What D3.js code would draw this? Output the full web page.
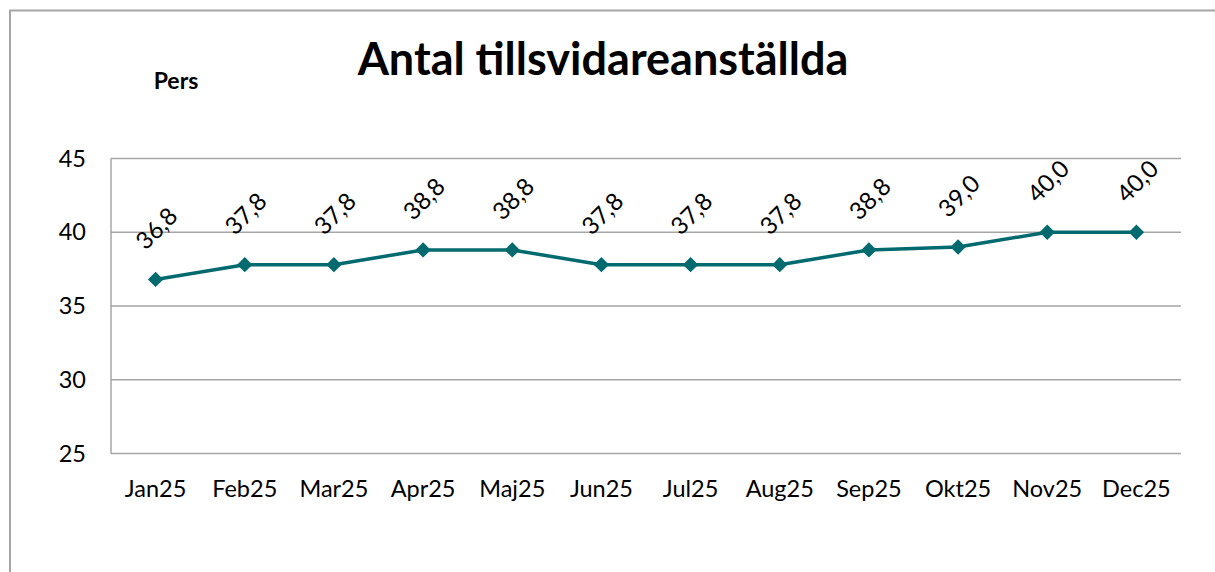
<!DOCTYPE html>
<html><head><meta charset="utf-8">
<script src="https://cdn.jsdelivr.net/npm/d3@7"></script>
<style>
html,body{margin:0;padding:0;background:#fff;}
svg{display:block;font-family:Lato,"Open Sans",sans-serif;}
</style></head>
<body>
<svg id="chart" width="1215" height="572"></svg>
<script>
const months = ["Jan25","Feb25","Mar25","Apr25","Maj25","Jun25","Jul25","Aug25","Sep25","Okt25","Nov25","Dec25"];
const values = [36.8,37.8,37.8,38.8,38.8,37.8,37.8,37.8,38.8,39.0,40.0,40.0];
const yTicks = [25,30,35,40,45];
const titleText = "Antal tillsvidareanställda";
const unitText = "Pers";

const svg = d3.select("#chart");
const pLeft = 111, pRight = 1181, pTop = 158.5, pBottom = 453.5;

svg.append("rect").attr("x",10).attr("y",10.5).attr("width",1300).attr("height",700)
  .attr("fill","none").attr("stroke","#a6a6a6").attr("stroke-width",2);

const x = d3.scalePoint().domain(months).range([pLeft,pRight]).padding(0.5);
const y = d3.scaleLinear().domain([25,45]).range([pBottom,pTop]);

// gridlines
svg.append("g").selectAll("line").data(yTicks).join("line")
  .attr("x1",pLeft).attr("x2",pRight).attr("y1",d=>y(d)).attr("y2",d=>y(d))
  .attr("stroke","#a6a6a6").attr("stroke-width",1.5);
// y axis line
svg.append("line").attr("x1",pLeft).attr("x2",pLeft).attr("y1",pTop).attr("y2",pBottom)
  .attr("stroke","#a6a6a6").attr("stroke-width",1.5);

// y tick labels
svg.append("g").selectAll("text").data(yTicks).join("text")
  .attr("x",86).attr("y",d=>y(d)).attr("dy","0.35em").attr("text-anchor","end")
  .attr("font-size",23.5).attr("fill","#000").text(d=>d);

// x labels
svg.append("g").selectAll("text").data(months).join("text")
  .attr("x",d=>x(d)).attr("y",497).attr("text-anchor","middle")
  .attr("font-size",23.5).attr("fill","#000").text(d=>d);

// line
const line = d3.line().x((d,i)=>x(months[i])).y(d=>y(d));
svg.append("path").datum(values).attr("d",line).attr("fill","none")
  .attr("stroke","#006a6e").attr("stroke-width",3.5).attr("stroke-linejoin","round");

// markers
svg.append("g").selectAll("path").data(values).join("path")
  .attr("transform",(d,i)=>`translate(${x(months[i])},${y(d)})`)
  .attr("d",d3.symbol().type(d3.symbolDiamond2).size(150)())
  .attr("fill","#006a6e");

// data labels
const fmt = d => d.toFixed(1).replace(".",",");
svg.append("g").selectAll("text").data(values).join("text")
  .attr("transform",(d,i)=>`translate(${x(months[i])+1},${y(d)-51}) rotate(-45)`)
  .attr("text-anchor","middle").attr("dy","0.35em")
  .attr("font-size",24).attr("fill","#000").text(fmt);

// title
svg.append("text").attr("x",603).attr("y",75).attr("text-anchor","middle")
  .attr("font-size",45).attr("font-weight","bold").attr("fill","#000").text(titleText);
svg.append("text").attr("x",176).attr("y",89).attr("text-anchor","middle")
  .attr("font-size",23).attr("font-weight","bold").attr("fill","#000").text(unitText);
</script>
</body></html>
